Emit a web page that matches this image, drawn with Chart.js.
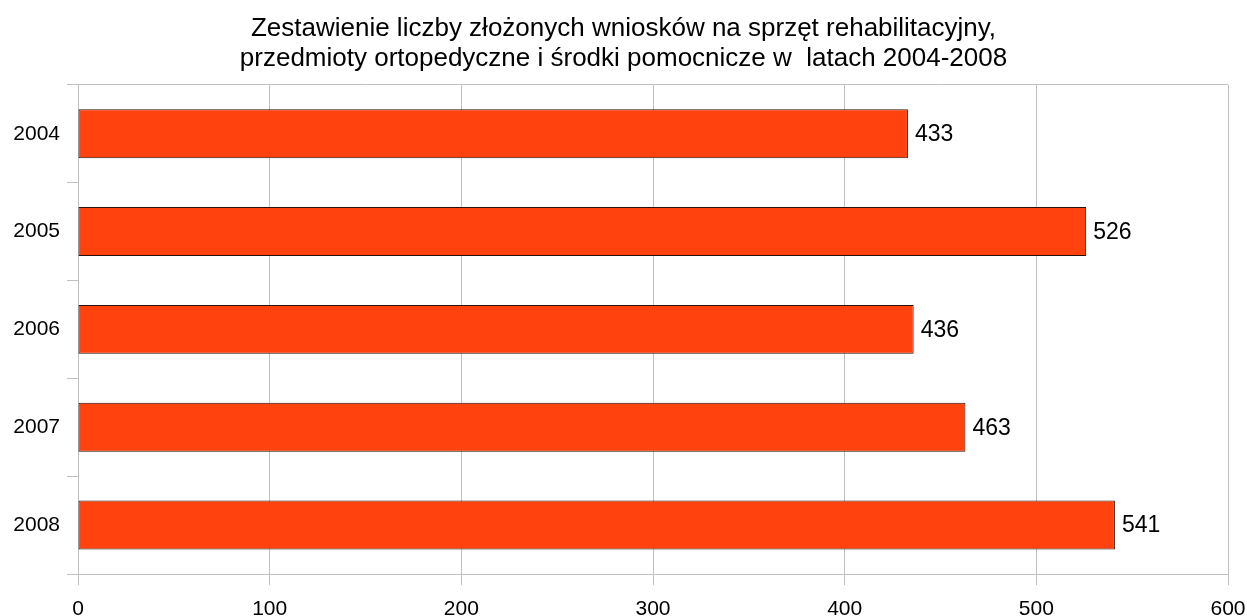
<!DOCTYPE html>
<html>
<head>
<meta charset="utf-8">
<script src="https://cdn.jsdelivr.net/npm/chart.js@4/dist/chart.umd.min.js"></script>
<style>
html,body{margin:0;padding:0;background:#fff;}
#wrap{width:1247px;height:616px;position:relative;}
</style>
</head>
<body>
<div id="wrap"><canvas id="c" width="1247" height="616"></canvas></div>
<script>
const categories = ['2004', '2005', '2006', '2007', '2008'];
const values = [433, 526, 436, 463, 541];
const titleLines = ['Zestawienie liczby złożonych wniosków na sprzęt rehabilitacyjny,', 'przedmioty ortopedyczne i środki pomocnicze w  latach 2004-2008'];
const xTicks = [0, 100, 200, 300, 400, 500, 600];

const FONT = "'Liberation Sans', Arial, sans-serif";
const GRID = '#c0c0c0';

const valueLabels = {
  id: 'valueLabels',
  afterDatasetsDraw(chart) {
    const ctx = chart.ctx;
    const meta = chart.getDatasetMeta(0);
    ctx.save();
    ctx.font = '23px ' + FONT;
    ctx.fillStyle = '#000';
    ctx.textAlign = 'left';
    ctx.textBaseline = 'middle';
    meta.data.forEach((bar, i) => {
      ctx.fillText(String(chart.data.datasets[0].data[i]), bar.x + 7, bar.y + 1);
    });
    ctx.restore();
  }
};

new Chart(document.getElementById('c'), {
  type: 'bar',
  data: {
    labels: categories,
    datasets: [{
      data: values,
      backgroundColor: '#ff420e',
      borderColor: '#2a120a',
      borderWidth: 1,
      borderSkipped: false,
      barPercentage: 0.5,
      categoryPercentage: 1.0
    }]
  },
  options: {
    indexAxis: 'y',
    responsive: false,
    animation: false,
    layout: { padding: 0 },
    plugins: {
      legend: { display: false },
      tooltip: { enabled: false },
      title: {
        display: true,
        text: titleLines,
        color: '#000',
        font: { family: FONT, size: 26, weight: 'normal', lineHeight: 1.16 },
        padding: { top: 14, bottom: 10.5 }
      }
    },
    scales: {
      x: {
        min: 0,
        max: 600,
        afterBuildTicks: (scale) => { scale.ticks = xTicks.map(v => ({ value: v })); },
        afterFit: (scale) => { scale.height = 42; scale.paddingRight = 19; scale.paddingLeft = 0; },
        grid: { color: GRID, tickLength: 11, tickColor: GRID, lineWidth: 1 },
        border: { color: GRID, width: 1 },
        ticks: { color: '#000', font: { family: FONT, size: 21 }, padding: 12, maxRotation: 0 }
      },
      y: {
        afterFit: (scale) => { scale.width = 78; },
        grid: {
          offset: true,
          color: (c) => (c.index === 0 ? GRID : 'rgba(0,0,0,0)'),
          tickColor: GRID,
          tickLength: 11,
          lineWidth: 1
        },
        border: { color: GRID, width: 1 },
        ticks: { color: '#000', font: { family: FONT, size: 21 }, padding: 7 }
      }
    }
  },
  plugins: [valueLabels]
});
</script>
</body>
</html>
